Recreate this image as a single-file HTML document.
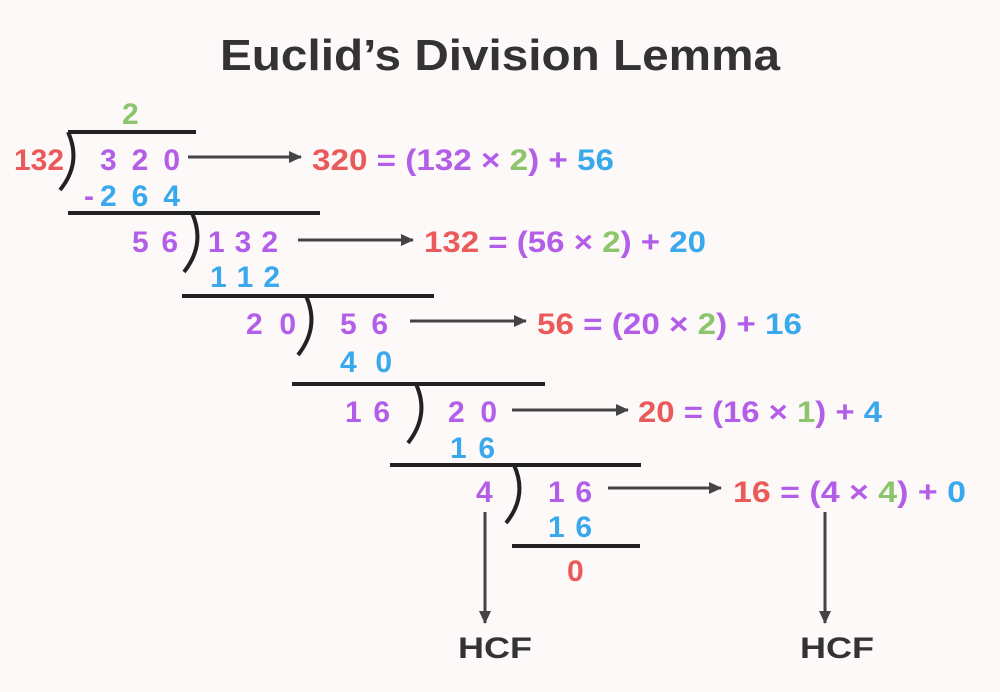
<!DOCTYPE html>
<html><head><meta charset="utf-8"><style>
html,body{margin:0;padding:0;background:#fdf9f8;}
svg{display:block;}
text{font-family:"Liberation Sans",sans-serif;font-weight:bold;}
.r{fill:#eb5a5a}.p{fill:#b25ee8}.b{fill:#3aa8ec}.g{fill:#8cc56b}.d{fill:#333}
</style></head><body>
<svg width="1000" height="692" viewBox="0 0 1000 692" xmlns="http://www.w3.org/2000/svg">
<defs><marker id="ah" markerWidth="13" markerHeight="12" refX="12" refY="6" orient="auto" markerUnits="userSpaceOnUse"><path d="M0,0 L13,6 L0,12 z" fill="#444"/></marker></defs>
<rect width="1000" height="692" fill="#fdf9f8"/>
<text x="220" y="70" font-size="44" class="d" textLength="560" lengthAdjust="spacingAndGlyphs">Euclid’s Division Lemma</text>

<g stroke="#222" stroke-width="4" fill="none">
<line x1="68" y1="132" x2="196" y2="132"/>
<line x1="68" y1="213" x2="320" y2="213"/>
<line x1="182" y1="296" x2="434" y2="296"/>
<line x1="292" y1="384" x2="545" y2="384"/>
<line x1="390" y1="465" x2="641" y2="465"/>
<line x1="512" y1="546" x2="640" y2="546"/>
<path d="M68,132 Q82,163 60,190"/>
<path d="M192,213 Q206,244 184,272"/>
<path d="M306,296 Q320,327 298,355"/>
<path d="M416,384 Q430,415 408,443"/>
<path d="M514,465 Q528,496 506,523"/>
</g>
<g stroke="#444" stroke-width="3" marker-end="url(#ah)">
<line x1="188" y1="157" x2="301" y2="157"/>
<line x1="298" y1="240" x2="413" y2="240"/>
<line x1="410" y1="321" x2="526" y2="321"/>
<line x1="512" y1="410" x2="628" y2="410"/>
<line x1="608" y1="488" x2="721" y2="488"/>
<line x1="485" y1="512" x2="485" y2="623"/>
<line x1="825" y1="512" x2="825" y2="623"/>
</g>
<g font-size="30">
<text x="122" y="124" class="g">2</text>
<text x="14" y="170" class="r" textLength="50" lengthAdjust="spacingAndGlyphs">132</text>
<text x="100" y="170" class="p" textLength="80">3 2 0</text>
<text x="84" y="206" class="p">-</text>
<text x="100" y="206" class="b" textLength="80">2 6 4</text>
<text x="312" y="170" textLength="302" lengthAdjust="spacingAndGlyphs"><tspan class="r">320</tspan><tspan class="p"> = (132 × </tspan><tspan class="g">2</tspan><tspan class="p">) + </tspan><tspan class="b">56</tspan></text>

<text x="132" y="252" class="p" textLength="46">5 6</text>
<text x="208" y="252" class="p" textLength="70">1 3 2</text>
<text x="210" y="287" class="b" textLength="70">1 1 2</text>
<text x="424" y="252" textLength="282" lengthAdjust="spacingAndGlyphs"><tspan class="r">132</tspan><tspan class="p"> = (56 × </tspan><tspan class="g">2</tspan><tspan class="p">) + </tspan><tspan class="b">20</tspan></text>

<text x="246" y="334" class="p" textLength="50">2 0</text>
<text x="340" y="334" class="p" textLength="48">5 6</text>
<text x="340" y="372" class="b" textLength="52">4 0</text>
<text x="537" y="334" textLength="265" lengthAdjust="spacingAndGlyphs"><tspan class="r">56</tspan><tspan class="p"> = (20 × </tspan><tspan class="g">2</tspan><tspan class="p">) + </tspan><tspan class="b">16</tspan></text>

<text x="345" y="422" class="p" textLength="45">1 6</text>
<text x="448" y="422" class="p" textLength="49">2 0</text>
<text x="450" y="458" class="b" textLength="45">1 6</text>
<text x="638" y="422" textLength="244" lengthAdjust="spacingAndGlyphs"><tspan class="r">20</tspan><tspan class="p"> = (16 × </tspan><tspan class="g">1</tspan><tspan class="p">) + </tspan><tspan class="b">4</tspan></text>

<text x="476" y="502" class="p">4</text>
<text x="548" y="502" class="p" textLength="44">1 6</text>
<text x="548" y="537" class="b" textLength="44">1 6</text>
<text x="733" y="502" textLength="233" lengthAdjust="spacingAndGlyphs"><tspan class="r">16</tspan><tspan class="p"> = (4 × </tspan><tspan class="g">4</tspan><tspan class="p">) + </tspan><tspan class="b">0</tspan></text>
<text x="567" y="581" class="r">0</text>

<text x="458" y="658" class="d" textLength="74" lengthAdjust="spacingAndGlyphs">HCF</text>
<text x="800" y="658" class="d" textLength="74" lengthAdjust="spacingAndGlyphs">HCF</text>
</g>
</svg>
</body></html>
